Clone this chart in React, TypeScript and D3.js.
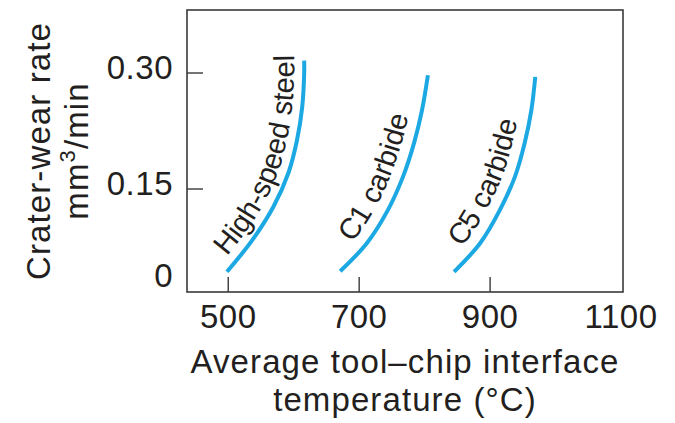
import React, { useEffect, useRef } from "react";
import * as d3 from "d3";

// ---- data ----
const xTickValues = [500, 700, 900];
const xTickLabelValues = [500, 700, 900, 1100];
const yTickValues = [0.15, 0.3];
const yTickLabelValues = [0, 0.15, 0.3];
const yTickLabelText = ["0", "0.15", "0.30"];

const materialNames = ["High-speed steel", "C1 carbide", "C5 carbide"];
const hssTemp = [498, 537, 569, 592, 605, 613, 616, 616];
const hssRate = [0.015, 0.067, 0.121, 0.171, 0.213, 0.256, 0.3, 0.316];
const c1Temp = [671, 712, 744, 767, 784, 796, 805];
const c1Rate = [0.016, 0.062, 0.116, 0.166, 0.21, 0.252, 0.297];
const c5Temp = [845, 885, 915, 938, 953, 963, 969];
const c5Rate = [0.015, 0.062, 0.116, 0.166, 0.21, 0.252, 0.295];

const xTitle = ["Average tool\u2013chip interface", "temperature (\u00B0C)"];
const yTitle = "Crater-wear rate";

export default function App() {
  const ref = useRef<SVGSVGElement | null>(null);

  useEffect(() => {
    const W = 675, H = 423;
    const left = 187, right = 623, top = 10, bottom = 292;
    const font = "'Liberation Sans', Arial, Helvetica, sans-serif";
    const textColor = "#231f20";
    const axisColor = "#3a3a3a";
    const lineColor = "#1ba8e3";

    const svg = d3.select(ref.current);
    svg.selectAll("*").remove();
    svg.attr("width", W).attr("height", H);

    const x = d3.scaleLinear().domain([437, 1103]).range([left, right]);
    const y = d3.scaleLinear().domain([0, 0.15, 0.3, 0.3815]).range([281, 189, 73, top]);

    // frame
    svg.append("rect")
      .attr("x", left).attr("y", top)
      .attr("width", right - left).attr("height", bottom - top)
      .attr("fill", "none").attr("stroke", axisColor).attr("stroke-width", 1.6);

    // x ticks (inward)
    svg.append("g").selectAll("line").data(xTickValues).join("line")
      .attr("x1", d => x(d)).attr("x2", d => x(d))
      .attr("y1", bottom).attr("y2", bottom - 15)
      .attr("stroke", axisColor).attr("stroke-width", 1.4);
    svg.append("g").selectAll("text").data(xTickLabelValues).join("text")
      .attr("x", d => x(d)).attr("y", 328)
      .attr("text-anchor", "middle")
      .attr("font-family", font).attr("font-size", 33).attr("fill", textColor)
      .attr("letter-spacing", 0.5)
      .text(d => String(d));

    // y ticks (inward)
    svg.append("g").selectAll("line").data(yTickValues).join("line")
      .attr("x1", left).attr("x2", left + 16)
      .attr("y1", d => y(d)).attr("y2", d => y(d))
      .attr("stroke", axisColor).attr("stroke-width", 1.4);
    svg.append("g").selectAll("text").data(yTickLabelValues).join("text")
      .attr("x", 173).attr("y", d => y(d) + 6)
      .attr("text-anchor", "end")
      .attr("font-family", font).attr("font-size", 33).attr("fill", textColor)
      .attr("letter-spacing", 0.5)
      .text((d, i) => yTickLabelText[i]);

    // axis titles
    const cx = (left + right) / 2;
    svg.append("text").attr("x", cx).attr("y", 373).attr("text-anchor", "middle")
      .attr("font-family", font).attr("font-size", 33).attr("fill", textColor)
      .attr("letter-spacing", 1.1).text(xTitle[0]);
    svg.append("text").attr("x", cx).attr("y", 411).attr("text-anchor", "middle")
      .attr("font-family", font).attr("font-size", 33).attr("fill", textColor)
      .attr("letter-spacing", 1.1).text(xTitle[1]);

    const cy = (top + bottom) / 2;
    svg.append("text").attr("transform", `translate(50,${cy}) rotate(-90)`)
      .attr("text-anchor", "middle")
      .attr("font-family", font).attr("font-size", 33).attr("fill", textColor)
      .attr("letter-spacing", 1.1).text(yTitle);
    const t2 = svg.append("text").attr("transform", `translate(88,${cy}) rotate(-90)`)
      .attr("text-anchor", "middle")
      .attr("font-family", font).attr("font-size", 33).attr("fill", textColor)
      .attr("letter-spacing", 1.1);
    t2.append("tspan").text("mm");
    t2.append("tspan").attr("dy", -13).attr("font-size", 22).text("3");
    t2.append("tspan").attr("dy", 13).text("/min");

    // curves
    const series = [
      { name: materialNames[0], t: hssTemp, r: hssRate },
      { name: materialNames[1], t: c1Temp, r: c1Rate },
      { name: materialNames[2], t: c5Temp, r: c5Rate },
    ];
    const labelStart = [12, 28, 22];
    const labelGap = [10, 12, 12];

    const line = d3.line<[number, number]>()
      .x(d => x(d[0])).y(d => y(d[1]))
      .curve(d3.curveCatmullRom.alpha(0.5));

    const defs = svg.append("defs");

    series.forEach((s, i) => {
      const pts: [number, number][] = s.t.map((v, k) => [v, s.r[k]]);
      const path = svg.append("path")
        .attr("d", line(pts))
        .attr("fill", "none").attr("stroke", lineColor)
        .attr("stroke-width", 4).attr("stroke-linecap", "butt");
      const node = path.node() as SVGPathElement;
      const L = node.getTotalLength();
      const gap = labelGap[i];
      const samples: [number, number][] = [];
      const step = 2;
      for (let l = 0; l <= L; l += step) {
        const p = node.getPointAtLength(l);
        const a = node.getPointAtLength(Math.max(0, l - 1));
        const b = node.getPointAtLength(Math.min(L, l + 1));
        let dx = b.x - a.x, dy = b.y - a.y;
        const len = Math.hypot(dx, dy) || 1;
        dx /= len; dy /= len;
        samples.push([p.x + gap * dy, p.y - gap * dx]);
      }
      // extend along final tangent
      const pe = node.getPointAtLength(L);
      const pa = node.getPointAtLength(L - 1);
      let ex = pe.x - pa.x, ey = pe.y - pa.y;
      const el = Math.hypot(ex, ey) || 1;
      ex /= el; ey /= el;
      const last = samples[samples.length - 1];
      samples.push([last[0] + ex * 40, last[1] + ey * 40]);

      const id = `label-path-${i}`;
      defs.append("path").attr("id", id)
        .attr("d", d3.line().curve(d3.curveLinear)(samples));

      svg.append("text")
        .attr("font-family", font).attr("font-size", 29).attr("fill", textColor)
        .append("textPath")
        .attr("href", `#${id}`)
        .attr("startOffset", labelStart[i])
        .text(s.name);
    });
  }, []);

  return (
    <svg ref={ref} style={{ position: "absolute", left: 0, top: 0, background: "#fff" }} />
  );
}
